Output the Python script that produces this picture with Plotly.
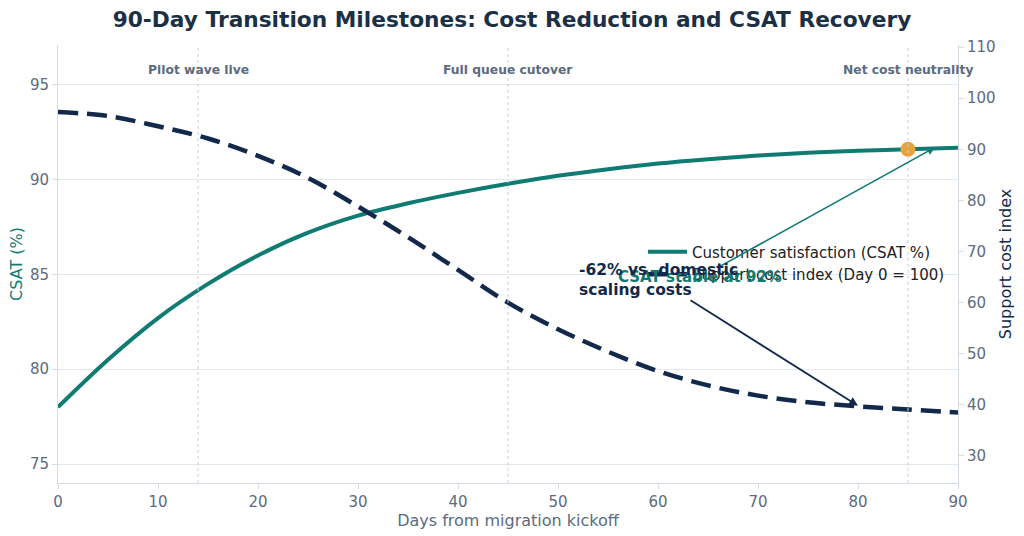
import plotly.graph_objects as go

TEAL = "#0f7b73"
NAVY = "#13294b"
ORANGE = "#e8a33d"
GRAY = "#5b6b7e"
GRID = "#e3e8ef"
AXIS = "#d5dce5"
FONT = "DejaVu Sans"

# Values
days = [0, 5, 10, 15, 20, 25, 30, 35, 40, 45, 50, 55, 60, 65, 70, 75, 80, 85, 90]
csat = [78.0, 80.5, 82.7, 84.5, 86.0, 87.2, 88.1, 88.75, 89.3, 89.78, 90.2,
        90.55, 90.85, 91.08, 91.27, 91.42, 91.52, 91.6, 91.68]
cost_index = [97.3, 96.5, 94.5, 92.1, 88.7, 84.4, 78.8, 72.8, 66.4, 60.0, 54.8,
              50.4, 46.6, 43.8, 41.8, 40.5, 39.7, 39.1, 38.5]

milestone_days = [14, 45, 85]
milestone_labels = ["Pilot wave live", "Full queue cutover", "Net cost neutrality"]

marker_day = 85
marker_csat = 91.6


fig = go.Figure()

fig.add_trace(
    go.Scatter(
        x=days,
        y=csat,
        name="Customer satisfaction (CSAT %)",
        mode="lines",
        line=dict(color=TEAL, width=4, shape="spline"),
    )
)
fig.add_trace(
    go.Scatter(
        x=days,
        y=cost_index,
        name="Support cost index (Day 0 = 100)",
        mode="lines",
        line=dict(color=NAVY, width=4.5, dash="20px,9px", shape="spline"),
        yaxis="y2",
    )
)
fig.add_trace(
    go.Scatter(
        x=[marker_day],
        y=[marker_csat],
        mode="markers",
        marker=dict(color=ORANGE, size=15),
        showlegend=False,
        hoverinfo="skip",
    )
)

# Milestone guides and labels
for day, label in zip(milestone_days, milestone_labels):
    fig.add_vline(x=day, line=dict(color="#c9d1dc", width=1, dash="dot"))
    fig.add_annotation(
        x=day,
        y=0.963,
        xref="x",
        yref="paper",
        text=f"<b>{label}</b>",
        showarrow=False,
        font=dict(family=FONT, size=12.3, color=GRAY),
    )

fig.add_annotation(
    x=87.7,
    y=91.7,
    ax=-235,
    ay=130,
    text="<b>CSAT stable at 92%</b>",
    showarrow=True,
    arrowhead=2,
    arrowsize=1,
    arrowwidth=1.6,
    arrowcolor=TEAL,
    font=dict(family=FONT, size=15, color=TEAL),
)
fig.add_annotation(
    x=80,
    y=39.8,
    yref="y2",
    ax=-200,
    ay=-126,
    text="<b>-62% vs. domestic<br>scaling costs</b>",
    align="left",
    showarrow=True,
    arrowhead=2,
    arrowsize=1,
    arrowwidth=1.8,
    arrowcolor=NAVY,
    font=dict(family=FONT, size=15.5, color=NAVY),
)

fig.update_layout(
    width=1024,
    height=536,
    margin=dict(l=58, r=66, t=45, b=53),
    paper_bgcolor="white",
    plot_bgcolor="white",
    font=dict(family=FONT, color=GRAY, size=15),
    title=dict(
        text="<b>90-Day Transition Milestones: Cost Reduction and CSAT Recovery</b>",
        x=0.5,
        xanchor="center",
        y=0.963,
        yanchor="middle",
        font=dict(family=FONT, size=21.7, color="#1b2f45"),
    ),
    legend=dict(
        x=0.65,
        y=0.565,
        xanchor="left",
        yanchor="top",
        bgcolor="rgba(0,0,0,0)",
        font=dict(family=FONT, size=15, color="#222222"),
        itemwidth=39,
        tracegroupgap=0,
    ),
    xaxis=dict(
        range=[0, 90],
        dtick=10,
        showgrid=False,
        zeroline=False,
        showline=True,
        linecolor=AXIS,
        ticks="outside",
        ticklen=5,
        tickcolor=AXIS,
        automargin=False,
        title=dict(text="Days from migration kickoff", font=dict(size=16, color=GRAY), standoff=2),
    ),
    yaxis=dict(
        range=[74.0, 97.1],
        tickvals=[75, 80, 85, 90, 95],
        showgrid=True,
        gridcolor=GRID,
        zeroline=False,
        showline=True,
        linecolor=AXIS,
        ticks="outside",
        ticklen=5,
        tickcolor=AXIS,
        automargin=False,
        title=dict(text="CSAT (%)", font=dict(size=16, color=TEAL), standoff=3),
    ),
    yaxis2=dict(
        range=[24.7, 110.4],
        tickvals=[30, 40, 50, 60, 70, 80, 90, 100, 110],
        overlaying="y",
        side="right",
        showgrid=False,
        zeroline=False,
        showline=True,
        linecolor=AXIS,
        ticks="outside",
        ticklen=5,
        tickcolor=AXIS,
        automargin=False,
        title=dict(text="Support cost index", font=dict(size=16, color=NAVY), standoff=5),
    ),
)

# drop the default page margin so the figure sits at the window's corner
fig.write_html(
    "out.html",
    config={"displayModeBar": False},
    post_script="document.body.style.margin = '0';",
)
